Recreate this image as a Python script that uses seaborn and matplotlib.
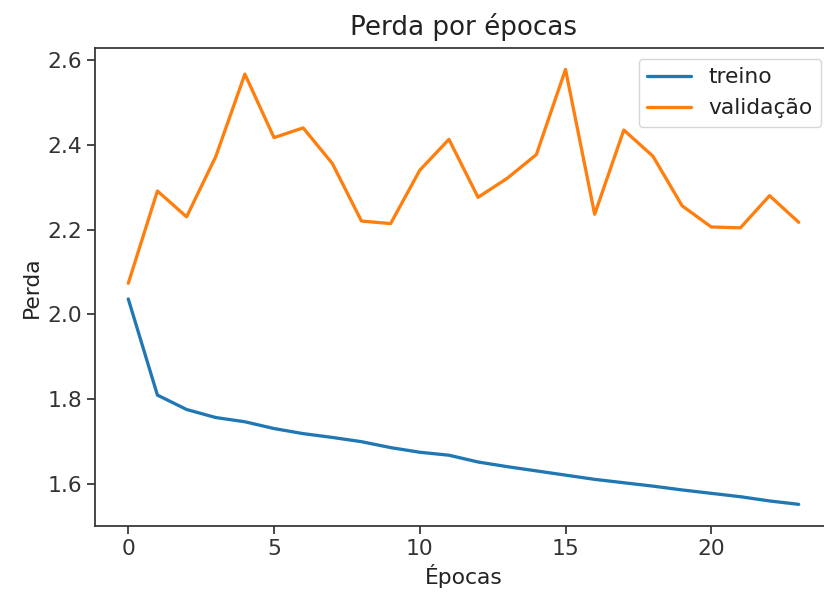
from matplotlib import pyplot as plt
import seaborn as sns
import pandas as pd

epocas = list(range(24))
perda_treino = [2.036, 1.809, 1.775, 1.756, 1.746, 1.730, 1.718, 1.709,
                1.699, 1.685, 1.674, 1.667, 1.651, 1.640, 1.630, 1.620,
                1.610, 1.602, 1.594, 1.585, 1.577, 1.569, 1.559, 1.551]
perda_validacao = [2.073, 2.291, 2.230, 2.372, 2.567, 2.417, 2.440, 2.356,
                   2.220, 2.214, 2.340, 2.413, 2.276, 2.321, 2.377, 2.578,
                   2.236, 2.435, 2.373, 2.256, 2.206, 2.204, 2.280, 2.217]

s = 1.57  # scale from the notebook-sized figure
sns.set_theme(style="ticks", palette="tab10", font="DejaVu Sans", rc={
    "font.size": 10 * s,
    "axes.titlesize": 12 * s,
    "axes.labelsize": 10 * s,
    "xtick.labelsize": 10 * s,
    "ytick.labelsize": 10 * s,
    "legend.fontsize": 10 * s,
    "axes.linewidth": 0.8 * s,
    "xtick.major.size": 3.5 * s,
    "ytick.major.size": 3.5 * s,
    "xtick.major.width": 0.8 * s,
    "ytick.major.width": 0.8 * s,
    "axes.edgecolor": "#333333",
    "text.color": "#222222",
    "axes.labelcolor": "#222222",
    "xtick.color": "#333333",
    "ytick.color": "#333333",
    "lines.linewidth": 1.5 * s,
})

df = pd.DataFrame({"epoca": epocas, "treino": perda_treino,
                   "validacao": perda_validacao})

fig = plt.figure(figsize=(8.24, 6.04), dpi=100)
ax = fig.add_axes([0.115, 0.129, 0.895, 0.792])

sns.lineplot(data=df, x="epoca", y="treino", label="treino", ax=ax)
sns.lineplot(data=df, x="epoca", y="validacao", label="validação", ax=ax)

ax.set_title("Perda por épocas", pad=6 * s)
ax.set_xlabel("Épocas")
ax.set_ylabel("Perda")
ax.set_xticks([0, 5, 10, 15, 20])
ax.set_yticks([1.6, 1.8, 2.0, 2.2, 2.4, 2.6])
# the original screenshot is cropped just before the right spine
ax.spines["right"].set_visible(False)
ax.legend(loc="upper right", frameon=True)

fig.savefig("out.png", dpi=100)
